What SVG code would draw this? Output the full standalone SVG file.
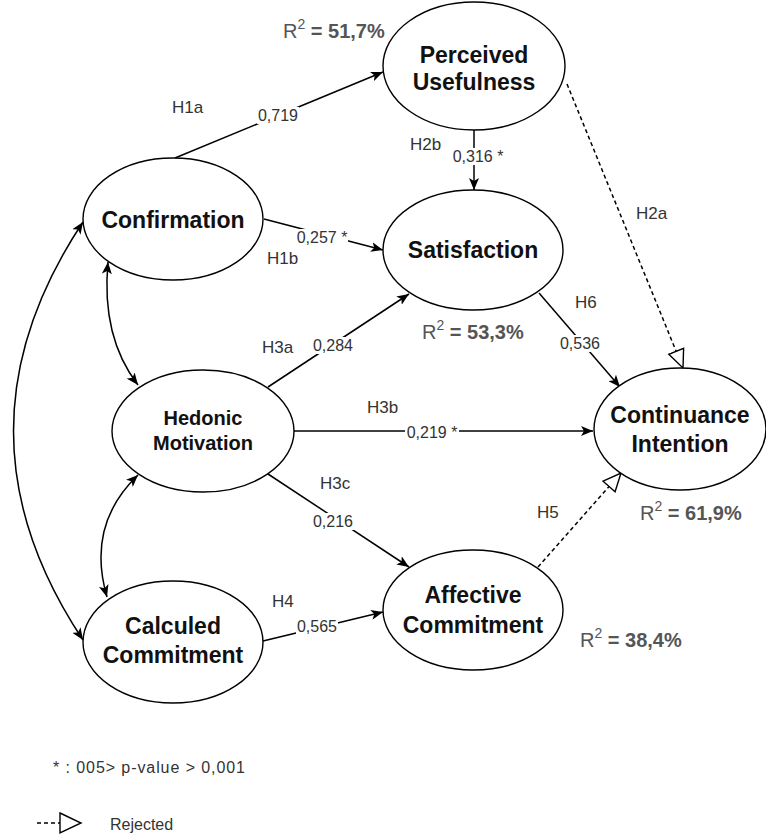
<svg xmlns="http://www.w3.org/2000/svg" width="766" height="835" viewBox="0 0 766 835">
<style>
.node{fill:#fff;stroke:#000;stroke-width:1.4}
.nt{font-family:"Liberation Sans",Arial,sans-serif;font-weight:bold;font-size:23px;fill:#111;text-anchor:middle}
.nts{font-size:20px}
.edge{fill:none;stroke:#000;stroke-width:1.5}
.dash{stroke-dasharray:4 3}
.h{font-family:"Liberation Sans",Arial,sans-serif;font-size:17px;fill:#333}
.v{font-family:"Liberation Sans",Arial,sans-serif;font-size:16px;fill:#333;text-anchor:middle}
.bg{fill:#fff}
.r{font-family:"Liberation Sans",Arial,sans-serif;font-size:20px;fill:#555;font-weight:bold}
.leg{font-family:"Liberation Sans",Arial,sans-serif;font-size:16px;fill:#333}
</style>
<defs>
<marker id="arr" viewBox="0 0 12 10" refX="12" refY="5" markerWidth="12" markerHeight="10" markerUnits="userSpaceOnUse" orient="auto-start-reverse">
<path d="M0,0 L12,5 L0,10 L3,5 z" fill="#000"/>
</marker>
<marker id="open" viewBox="0 0 20 20" refX="19" refY="10" markerWidth="20" markerHeight="20" markerUnits="userSpaceOnUse" orient="auto">
<path d="M1,2 L19,10 L1,18 z" fill="#fff" stroke="#000" stroke-width="1.4"/>
</marker>
</defs>

<g id="connectors">
<path class="edge" d="M175,158 L383,72" marker-end="url(#arr)"/>
<path class="edge" d="M264,219 L383,250" marker-end="url(#arr)"/>
<path class="edge" d="M474,130 L474,190" marker-end="url(#arr)"/>
<path class="edge dash" d="M567,84 L683,368" marker-end="url(#open)"/>
<path class="edge" d="M268,387 L409,294" marker-end="url(#arr)"/>
<path class="edge" d="M539,293 L620,387" marker-end="url(#arr)"/>
<path class="edge" d="M294,431 L593,431" marker-end="url(#arr)"/>
<path class="edge" d="M268,474 L409,567" marker-end="url(#arr)"/>
<path class="edge" d="M263,641 L383,612" marker-end="url(#arr)"/>
<path class="edge dash" d="M538,567 L621,473" marker-end="url(#open)"/>
<path class="edge" d="M83,222 Q-56,431 83,640" marker-start="url(#arr)" marker-end="url(#arr)"/>
<path class="edge" d="M108,262 Q101,337 138,385" marker-start="url(#arr)" marker-end="url(#arr)"/>
<path class="edge" d="M138,475 Q86,525 107,597" marker-start="url(#arr)" marker-end="url(#arr)"/>

<rect class="bg" x="257" y="107" width="42" height="17"/>
<text class="v" x="278" y="121">0,719</text>
<rect class="bg" x="296" y="229" width="52" height="17"/>
<text class="v" x="322" y="243">0,257 *</text>
<rect class="bg" x="452" y="148" width="52" height="17"/>
<text class="v" x="478" y="162">0,316 *</text>
<rect class="bg" x="312" y="337" width="42" height="17"/>
<text class="v" x="333" y="351">0,284</text>
<rect class="bg" x="559" y="335" width="42" height="17"/>
<text class="v" x="580" y="349">0,536</text>
<rect class="bg" x="405" y="424" width="54" height="17"/>
<text class="v" x="432" y="438">0,219 *</text>
<rect class="bg" x="312" y="513" width="42" height="17"/>
<text class="v" x="333" y="527">0,216</text>
<rect class="bg" x="296" y="618" width="42" height="17"/>
<text class="v" x="317" y="632">0,565</text>

<text class="h" x="172" y="113">H1a</text>
<text class="h" x="267" y="264">H1b</text>
<text class="h" x="410" y="150">H2b</text>
<text class="h" x="636" y="219">H2a</text>
<text class="h" x="262" y="353">H3a</text>
<text class="h" x="575" y="308">H6</text>
<text class="h" x="367" y="413">H3b</text>
<text class="h" x="320" y="489">H3c</text>
<text class="h" x="272" y="607">H4</text>
<text class="h" x="537" y="518">H5</text>
</g>

<g id="perceived-usefulness">
<ellipse class="node" cx="474" cy="66" rx="91" ry="64"/>
<text class="nt" x="474" y="63">Perceived</text>
<text class="nt" x="474" y="90">Usefulness</text>
</g>
<g id="confirmation">
<ellipse class="node" cx="173" cy="219" rx="90" ry="61"/>
<text class="nt" x="173" y="228">Confirmation</text>
</g>
<g id="satisfaction">
<ellipse class="node" cx="473" cy="250" rx="90" ry="60"/>
<text class="nt" x="473" y="258">Satisfaction</text>
</g>
<g id="hedonic-motivation">
<ellipse class="node" cx="203" cy="431" rx="91" ry="61"/>
<text class="nt nts" x="203" y="425">Hedonic</text>
<text class="nt nts" x="203" y="450">Motivation</text>
</g>
<g id="continuance-intention">
<ellipse class="node" cx="680" cy="429" rx="86" ry="61"/>
<text class="nt" x="680" y="423">Continuance</text>
<text class="nt" x="680" y="452">Intention</text>
</g>
<g id="affective-commitment">
<ellipse class="node" cx="473" cy="610" rx="90" ry="60"/>
<text class="nt" x="473" y="603">Affective</text>
<text class="nt" x="473" y="633">Commitment</text>
</g>
<g id="calculed-commitment">
<ellipse class="node" cx="173" cy="642" rx="90" ry="61"/>
<text class="nt" x="173" y="634">Calculed</text>
<text class="nt" x="173" y="663">Commitment</text>
</g>

<g id="r2-labels">
<text class="r" x="283" y="38"><tspan font-weight="normal">R</tspan><tspan dy="-9" font-size="14" font-weight="normal">2</tspan><tspan dy="9"> = 51,7%</tspan></text>
<text class="r" x="422" y="339"><tspan font-weight="normal">R</tspan><tspan dy="-9" font-size="14" font-weight="normal">2</tspan><tspan dy="9"> = 53,3%</tspan></text>
<text class="r" x="640" y="520"><tspan font-weight="normal">R</tspan><tspan dy="-9" font-size="14" font-weight="normal">2</tspan><tspan dy="9"> = 61,9%</tspan></text>
<text class="r" x="580" y="647"><tspan font-weight="normal">R</tspan><tspan dy="-9" font-size="14" font-weight="normal">2</tspan><tspan dy="9"> = 38,4%</tspan></text>
</g>

<g id="legend">
<text class="leg" x="53" y="773" textLength="192" lengthAdjust="spacing">* : 005&gt; p-value &gt; 0,001</text>
<path d="M37,823 L60,823" stroke="#000" stroke-width="1.4" stroke-dasharray="4 3" fill="none"/>
<path d="M60,813 L81,823 L60,833 z" fill="#fff" stroke="#000" stroke-width="1.4"/>
<text class="leg" x="110" y="830">Rejected</text>
</g>
</svg>
